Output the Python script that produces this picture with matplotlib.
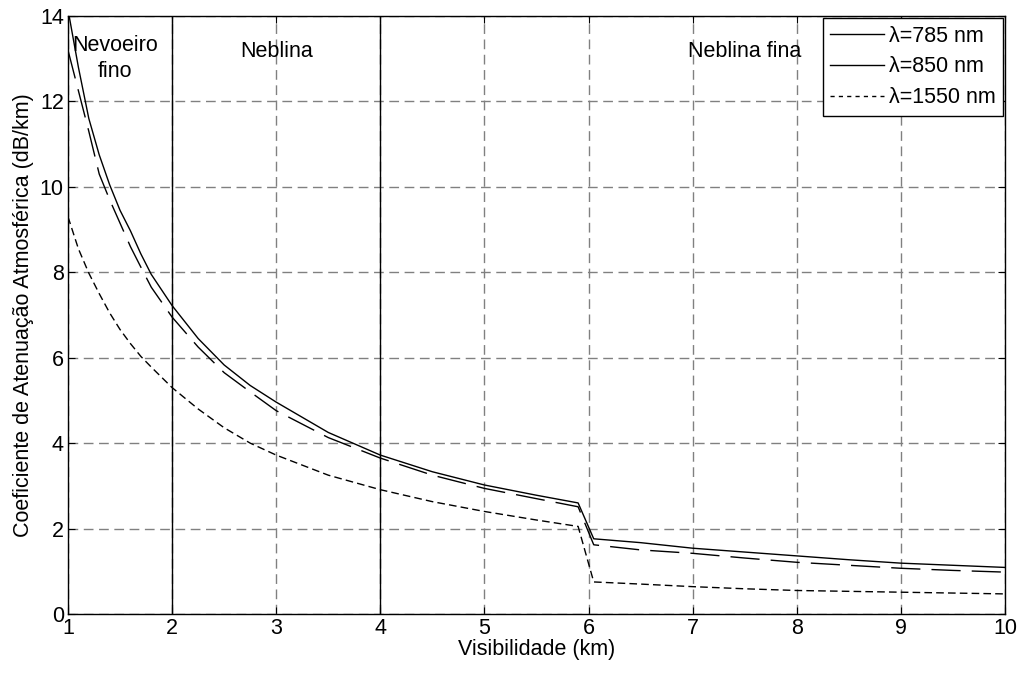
import matplotlib
matplotlib.use("Agg")
import matplotlib.pyplot as plt
from matplotlib.lines import Line2D

plt.rcParams['font.family'] = ['Liberation Sans', 'DejaVu Sans']

# visibilidade (km) e atenuacao (dB/km) para cada comprimento de onda
vis = [1, 1.1, 1.2, 1.3, 1.4, 1.5, 1.6, 1.7, 1.8, 2, 2.25, 2.5, 2.75, 3, 3.5, 4,
       4.5, 5, 5.5, 5.9, 6.05, 6.5, 7, 7.5, 8, 8.5, 9, 9.5, 10]
att_785 = [14.15, 12.8, 11.6, 10.75, 10.05, 9.45, 8.97, 8.43, 7.95, 7.22, 6.45, 5.83,
           5.35, 4.96, 4.25, 3.72, 3.33, 3.02, 2.78, 2.6, 1.76, 1.67, 1.54, 1.45,
           1.36, 1.27, 1.19, 1.14, 1.09]
att_850 = [13.2, 12.25, 11.3, 10.3, 9.7, 9.15, 8.6, 8.12, 7.65, 6.95, 6.25, 5.65,
           5.2, 4.76, 4.13, 3.65, 3.25, 2.94, 2.7, 2.51, 1.62, 1.5, 1.42, 1.31,
           1.21, 1.14, 1.07, 1.02, 0.98]
att_1550 = [9.3, 8.55, 7.98, 7.5, 7.05, 6.66, 6.33, 6.03, 5.78, 5.3, 4.8, 4.36,
            4.0, 3.72, 3.25, 2.91, 2.63, 2.4, 2.2, 2.05, 0.75, 0.7, 0.64, 0.59,
            0.55, 0.53, 0.51, 0.49, 0.47]

labels = ['λ=785 nm', 'λ=850 nm', 'λ=1550 nm']
regions = ['Nevoeiro\nfino', 'Neblina', 'Neblina fina']
region_x = [1.45, 3.0, 7.5]
region_y = [13.0, 13.16, 13.16]

fig = plt.figure(figsize=(10.24, 6.73), dpi=100)
ax = fig.add_axes([0.0664, 0.0877, 0.915, 0.8885])

ax.plot(vis, att_785, color='black', lw=1)
ax.plot(vis, att_850, color='black', lw=1, linestyle=(0, (21, 8)))
ax.plot(vis, att_1550, color='black', lw=1, linestyle=(0, (5.5, 3)))

ax.set_xlim(1, 10)
ax.set_ylim(0, 14)
ax.set_xticks(range(1, 11))
ax.set_yticks(range(0, 15, 2))
ax.grid(True, color='#808080', lw=1, linestyle=(0, (7, 4)))
ax.set_axisbelow(True)

# limites das zonas
for xv in [2, 4]:
    ax.axvline(xv, color='black', lw=1)

for xr, yr, txt in zip(region_x, region_y, regions):
    ax.text(xr, yr, txt, ha='center', va='center', fontsize=15.5, linespacing=1.3)

ax.tick_params(direction='in', top=True, right=True, length=5, labelsize=15.5, pad=3)
for s in ax.spines.values():
    s.set_linewidth(1)

ax.set_xlabel('Visibilidade (km)', fontsize=15.5, labelpad=0)
ax.set_ylabel('Coeficiente de Atenuação Atmosférica (dB/km)', fontsize=15.5, labelpad=4)

handles = [Line2D([], [], color='black', lw=1),
           Line2D([], [], color='black', lw=1),
           Line2D([], [], color='black', lw=1, linestyle=(0, (3, 3)))]
leg = ax.legend(handles, labels, loc='upper right', fontsize=15.5, fancybox=False,
                framealpha=1, edgecolor='black', handlelength=2.5,
                borderaxespad=0.1, labelspacing=0.45, handletextpad=0.2,
                borderpad=0.35)
leg.get_frame().set_linewidth(1)

fig.savefig('out.png', dpi=100)
